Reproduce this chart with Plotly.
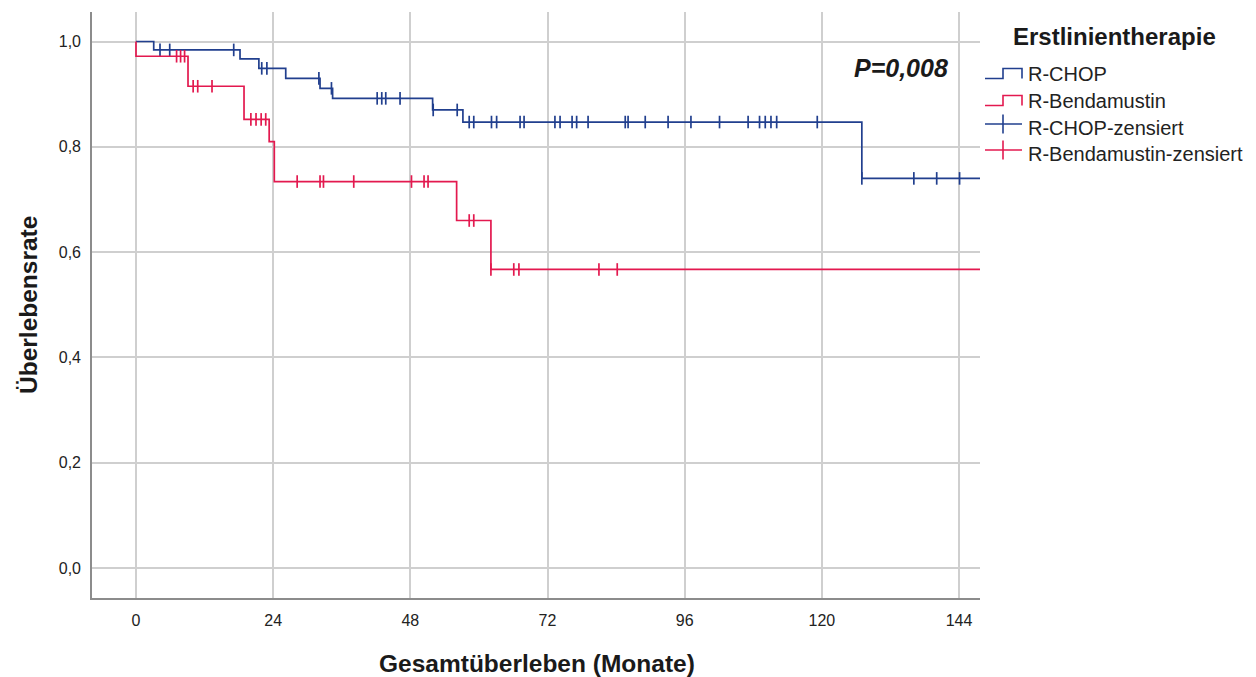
import plotly.graph_objects as go

# ---------------- data ----------------
chop_event_times = [0, 3.1, 18.2, 21.5, 26.2, 32.2, 34.4, 51.9, 57.2, 127.0]
chop_surv = [1.0, 0.984, 0.967, 0.949, 0.930, 0.911, 0.892, 0.870, 0.847, 0.740]
chop_censored = [4.2, 5.9, 17.1, 22.0, 22.9, 32.0, 34.2, 42.2, 43.0, 43.7, 46.2,
                 52.0, 56.2, 58.3, 59.1, 62.2, 63.1, 67.2, 67.9, 73.3, 74.2,
                 76.3, 77.1, 79.1, 85.6, 86.1, 89.1, 93.1, 97.1, 102.1, 107.1,
                 109.1, 110.1, 111.1, 112.1, 119.2, 127.0, 136.1, 140.1, 144.1]

benda_event_times = [0, 0, 9.1, 18.9, 23.3, 24.2, 56.1, 62.1]
benda_surv = [1.0, 0.972, 0.915, 0.852, 0.810, 0.734, 0.660, 0.567]
benda_censored = [7.1, 7.8, 8.5, 10.0, 10.8, 13.3, 20.1, 21.0, 21.9, 22.7,
                  28.2, 32.2, 32.8, 38.1, 48.2, 50.4, 51.1, 58.3, 59.1, 62.1,
                  66.1, 67.0, 81.0, 84.2]

max_follow_up = 150

x_ticks = [0, 24, 48, 72, 96, 120, 144]
y_ticks = [0.0, 0.2, 0.4, 0.6, 0.8, 1.0]
y_tick_labels = ["0,0", "0,2", "0,4", "0,6", "0,8", "1,0"]

group_names = ["R-CHOP", "R-Bendamustin"]
censor_names = ["R-CHOP-zensiert", "R-Bendamustin-zensiert"]
legend_title = "Erstlinientherapie"
p_text = "P=0,008"
x_title = "Gesamtüberleben (Monate)"
y_title = "Überlebensrate"

# ---------------- styling ----------------
BLUE = "#213f8e"
RED = "#e3194f"
FONT = "Arial, 'Liberation Sans', sans-serif"
W, H = 1256, 677
L, R, T, B = 92, 276, 12, 79


def level(times, surv, t):
    v = surv[0]
    for tt, s in zip(times, surv):
        if tt <= t:
            v = s
    return v


fig = go.Figure()

for times, surv, cens, color in [
    (chop_event_times, chop_surv, chop_censored, BLUE),
    (benda_event_times, benda_surv, benda_censored, RED),
]:
    fig.add_trace(go.Scatter(
        x=list(times) + [max_follow_up], y=list(surv) + [surv[-1]],
        mode="lines", line=dict(color=color, width=1.7, shape="hv"),
        showlegend=False, hoverinfo="skip"))
    fig.add_trace(go.Scatter(
        x=cens, y=[level(times, surv, c) for c in cens],
        mode="markers",
        marker=dict(symbol="line-ns", size=9, line=dict(color=color, width=1.7)),
        showlegend=False, hoverinfo="skip"))

pw, ph = W - L - R, H - T - B


def px(xp):
    return (xp - L) / pw


def py(yp):
    return (H - B - yp) / ph


annotations = [
    dict(text=f"<b><i>{p_text}</i></b>", x=px(901), y=py(68), xref="paper", yref="paper",
         showarrow=False, font=dict(size=25, color="#1a1a1a", family=FONT),
         xanchor="center", yanchor="middle"),
    dict(text=f"<b>{x_title}</b>", x=px(537), y=py(663), xref="paper", yref="paper",
         showarrow=False, font=dict(size=24.5, color="#1a1a1a", family=FONT),
         xanchor="center", yanchor="middle"),
    dict(text=f"<b>{y_title}</b>", x=px(28), y=py(305), xref="paper", yref="paper",
         showarrow=False, textangle=-90, font=dict(size=24.5, color="#1a1a1a", family=FONT),
         xanchor="center", yanchor="middle"),
    dict(text=f"<b>{legend_title}</b>", x=px(1011), y=py(37), xref="paper", yref="paper",
         showarrow=False, font=dict(size=24, color="#1a1a1a", family=FONT),
         xanchor="left", yanchor="middle"),
]

legend_rows = [74, 101, 128, 154]
legend_texts = group_names + censor_names
for txt, yc in zip(legend_texts, legend_rows):
    annotations.append(dict(text=txt, x=px(1026), y=py(yc), xref="paper", yref="paper",
                            showarrow=False, font=dict(size=20, color="#222222", family=FONT),
                            xanchor="left", yanchor="middle"))

shapes = []
# step glyphs
for yc, color in [(legend_rows[0], BLUE), (legend_rows[1], RED)]:
    lo, hi = yc + 4.5, yc - 5.5
    pts = [(985, lo), (1003, lo), (1003, hi), (1022, hi), (1022, lo)]
    path = "M " + " L ".join(f"{px(a):.5f},{py(b):.5f}" for a, b in pts)
    shapes.append(dict(type="path", path=path, xref="paper", yref="paper",
                       line=dict(color=color, width=1.6)))
# cross glyphs
for yc, color in [(legend_rows[2] - 4, BLUE), (legend_rows[3] - 4, RED)]:
    shapes.append(dict(type="line", x0=px(985), x1=px(1022), y0=py(yc), y1=py(yc),
                       xref="paper", yref="paper", line=dict(color=color, width=1.6)))
    shapes.append(dict(type="line", x0=px(1003), x1=px(1003), y0=py(yc - 9.5), y1=py(yc + 9.5),
                       xref="paper", yref="paper", line=dict(color=color, width=1.6)))

x0_px, x144_px = 136, 959
sx = (x144_px - x0_px) / 144
xr = [(L - x0_px) / sx, (W - R - x0_px) / sx]
y1_px, y0_px = 41.5, 568
sy = (y0_px - y1_px)
yr = [(y0_px - (H - B)) / sy, (y0_px - T) / sy]

fig.update_layout(
    width=W, height=H,
    margin=dict(l=L, r=R, t=T, b=B, pad=0),
    paper_bgcolor="white", plot_bgcolor="white",
    font=dict(family=FONT, color="#222222"),
    annotations=annotations, shapes=shapes,
    xaxis=dict(range=xr, tickvals=x_ticks, ticktext=[str(v) for v in x_ticks],
               showgrid=True, gridcolor="#cfcfcf", gridwidth=1.6,
               zeroline=False, showline=True, linecolor="#8c8c8c", linewidth=1.6,
               ticks="", tickfont=dict(size=16, color="#222222"), ticklabelstandoff=7),
    yaxis=dict(range=yr, tickvals=y_ticks, ticktext=y_tick_labels,
               showgrid=True, gridcolor="#cfcfcf", gridwidth=1.6,
               zeroline=False, showline=True, linecolor="#8c8c8c", linewidth=1.6,
               ticks="", tickfont=dict(size=16, color="#222222"), ticklabelstandoff=6),
)

fig.write_html("out.html")
